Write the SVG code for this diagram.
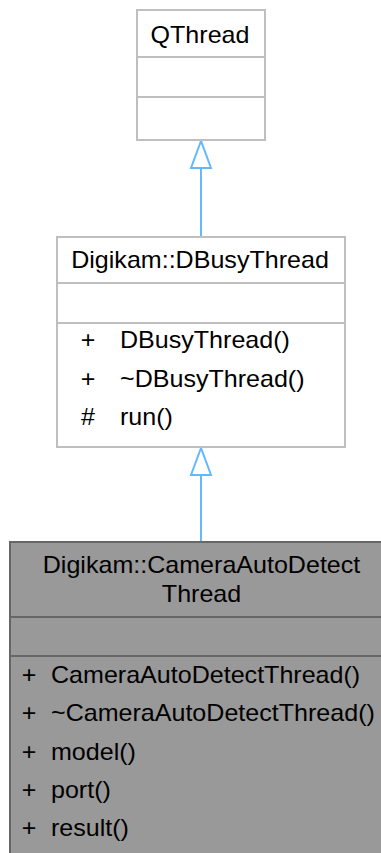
<svg xmlns="http://www.w3.org/2000/svg" width="381" height="853" viewBox="0 0 381 853">
<style>
text{font-family:"Liberation Sans",Arial,Helvetica,sans-serif;font-size:23px;fill:#000}
.c{text-anchor:middle}
.box{fill:#fff;stroke:#bfbfbf;stroke-width:2}
.sel{fill:#999;stroke:#666;stroke-width:2}
.edge{stroke:#63b8ff;stroke-width:2;fill:none}
.head{stroke:#63b8ff;stroke-width:2;fill:#fff}
</style>
<rect width="381" height="853" fill="#fff"/>
<g id="connectors">
<line class="edge" x1="201" y1="168" x2="201" y2="237"/>
<polygon class="head" points="201,141 191,168 211,168"/>
<line class="edge" x1="201" y1="475" x2="201" y2="542"/>
<polygon class="head" points="201,448 191,475 211,475"/>
</g>
<g id="QThread">
<rect class="box" x="137" y="10" width="128" height="130"/>
<line class="box" x1="137" y1="57" x2="265" y2="57"/>
<line class="box" x1="137" y1="97" x2="265" y2="97"/>
<g transform="scale(1.09 1)">
<text class="c" x="183.5" y="43">QThread</text>
</g>
</g>
<g id="DBusyThread">
<rect class="box" x="57" y="237" width="288" height="210"/>
<line class="box" x1="57" y1="283" x2="345" y2="283"/>
<line class="box" x1="57" y1="323" x2="345" y2="323"/>
<g transform="scale(1.09 1)">
<text class="c" x="183.5" y="268">Digikam::DBusyThread</text>
<text class="c" x="80.7" y="348">+</text>
<text x="110.1" y="348">DBusyThread()</text>
<text class="c" x="80.7" y="387">+</text>
<text x="110.1" y="387">~DBusyThread()</text>
<text class="c" x="80.7" y="425">#</text>
<text x="110.1" y="425">run()</text>
</g>
</g>
<g id="CameraAutoDetectThread">
<rect class="sel" x="10" y="542" width="384" height="330"/>
<line class="sel" x1="10" y1="617" x2="394" y2="617"/>
<line class="sel" x1="10" y1="656" x2="394" y2="656"/>
<g transform="scale(1.09 1)">
<text class="c" x="184.9" y="573">Digikam::CameraAutoDetect</text>
<text class="c" x="184.9" y="602">Thread</text>
<text class="c" x="26.6" y="683">+</text>
<text x="46.8" y="683">CameraAutoDetectThread()</text>
<text class="c" x="26.6" y="721">+</text>
<text x="46.8" y="721">~CameraAutoDetectThread()</text>
<text class="c" x="26.6" y="760">+</text>
<text x="46.8" y="760">model()</text>
<text class="c" x="26.6" y="798">+</text>
<text x="46.8" y="798">port()</text>
<text class="c" x="26.6" y="836">+</text>
<text x="46.8" y="836">result()</text>
</g>
</g>
</svg>
